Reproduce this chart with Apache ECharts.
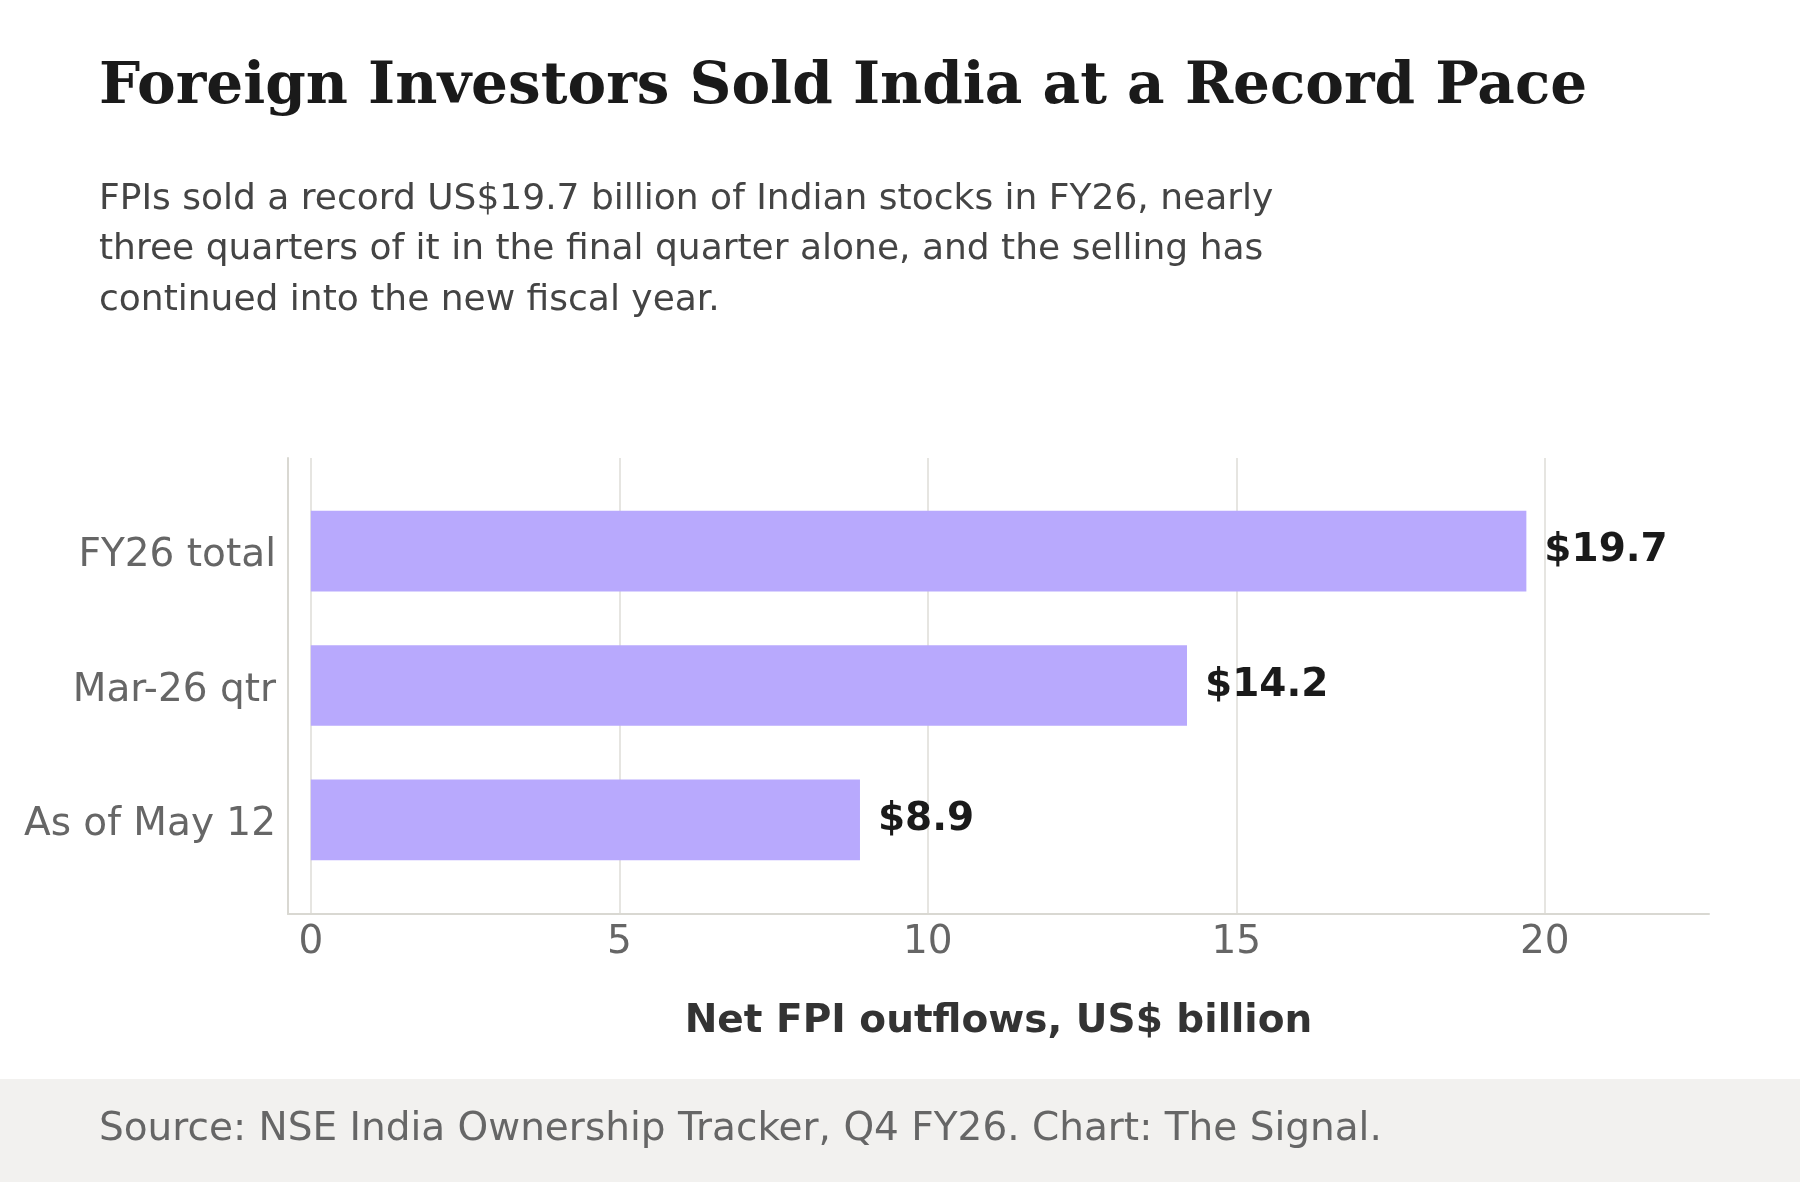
<!DOCTYPE html>
<html>
<head>
<meta charset="utf-8">
<script src="https://cdn.jsdelivr.net/npm/echarts@6/dist/echarts.min.js"></script>
<style>
  html, body { margin: 0; padding: 0; background: #fff; }
  #chart { width: 1800px; height: 1182px; }
</style>
</head>
<body>
<div id="chart"></div>
<script>
// data
const categories = ['FY26 total', 'Mar-26 qtr', 'As of May 12'];
const outflows = [19.7, 14.2, 8.9];
const xTicks = [0, 5, 10, 15, 20];

const xMin = -0.37;
const xMax = 22.66;

const sans = 'DejaVu Sans';

let chart = echarts.init(document.getElementById('chart'));

let option = {
  backgroundColor: '#ffffff',
  animation: false,
  title: [{
    text: 'Foreign Investors Sold India at a Record Pace',
    left: 99,
    top: 59,
    padding: 0,
    textStyle: {
      fontFamily: 'DejaVu Serif',
      fontWeight: 'bold',
      fontSize: 58,
      color: '#1a1a1a'
    }
  }, {
    text: 'FPIs sold a record US$19.7 billion of Indian stocks in FY26, nearly\nthree quarters of it in the final quarter alone, and the selling has\ncontinued into the new fiscal year.',
    left: 99,
    top: 174,
    padding: 0,
    textStyle: {
      fontFamily: sans,
      fontWeight: 'normal',
      fontSize: 36,
      lineHeight: 50.5,
      color: '#444444'
    }
  }, {
    text: 'Source: NSE India Ownership Tracker, Q4 FY26. Chart: The Signal.',
    left: 99,
    top: 1110,
    padding: 0,
    textStyle: {
      fontFamily: sans,
      fontWeight: 'normal',
      fontSize: 39,
      color: '#666666'
    }
  }],
  graphic: [{
    type: 'rect',
    z: -10,
    shape: { x: 0, y: 1079, width: 1800, height: 103 },
    style: { fill: '#f2f1ef' }
  }],
  grid: [
    // frame: axis lines, gridlines and ticks
    { left: 288, right: 91, top: 458, bottom: 268 },
    // bars
    { left: 288, right: 91, top: 484, bottom: 295 }
  ],
  xAxis: [{
    gridIndex: 0,
    type: 'value',
    min: xMin,
    max: xMax,
    name: 'Net FPI outflows, US$ billion',
    nameLocation: 'middle',
    nameGap: 88,
    nameTextStyle: {
      fontFamily: sans,
      fontWeight: 'bold',
      fontSize: 39,
      color: '#333333'
    },
    axisLine: { show: true, onZero: false, lineStyle: { color: '#d9d8d2', width: 2 } },
    axisTick: { show: false, customValues: xTicks },
    axisLabel: {
      customValues: xTicks,
      fontFamily: sans,
      fontSize: 39,
      color: '#666666',
      margin: 9
    },
    splitLine: { show: true, lineStyle: { color: '#e6e5e1', width: 2 } }
  }, {
    gridIndex: 1,
    type: 'value',
    min: xMin,
    max: xMax,
    show: false
  }],
  yAxis: [{
    gridIndex: 0,
    type: 'value',
    min: 0,
    max: 1,
    axisLine: { show: true, onZero: false, lineStyle: { color: '#d9d8d2', width: 2 } },
    axisTick: { show: false },
    axisLabel: { show: false },
    splitLine: { show: false }
  }, {
    gridIndex: 1,
    type: 'category',
    data: categories,
    inverse: true,
    axisLine: { show: false },
    axisTick: { show: false },
    axisLabel: {
      margin: 12,
      formatter: (v) => '{c|' + v + '}',
      rich: {
        c: {
          fontFamily: sans,
          fontSize: 39,
          color: '#666666',
          padding: [10, 0, 0, 0]
        }
      }
    }
  }],
  series: [{
    name: 'Net FPI outflows',
    type: 'bar',
    xAxisIndex: 1,
    yAxisIndex: 1,
    data: outflows,
    barCategoryGap: '40%',
    itemStyle: { color: '#b8a9fd' },
    label: {
      show: true,
      position: 'right',
      distance: 18,
      formatter: (p) => '$' + p.value.toFixed(1),
      fontFamily: sans,
      fontWeight: 'bold',
      fontSize: 39,
      color: '#1a1a1a'
    }
  }]
};

chart.setOption(option);

window.addEventListener('resize', function () {
  chart.resize();
});
</script>
</body>
</html>
